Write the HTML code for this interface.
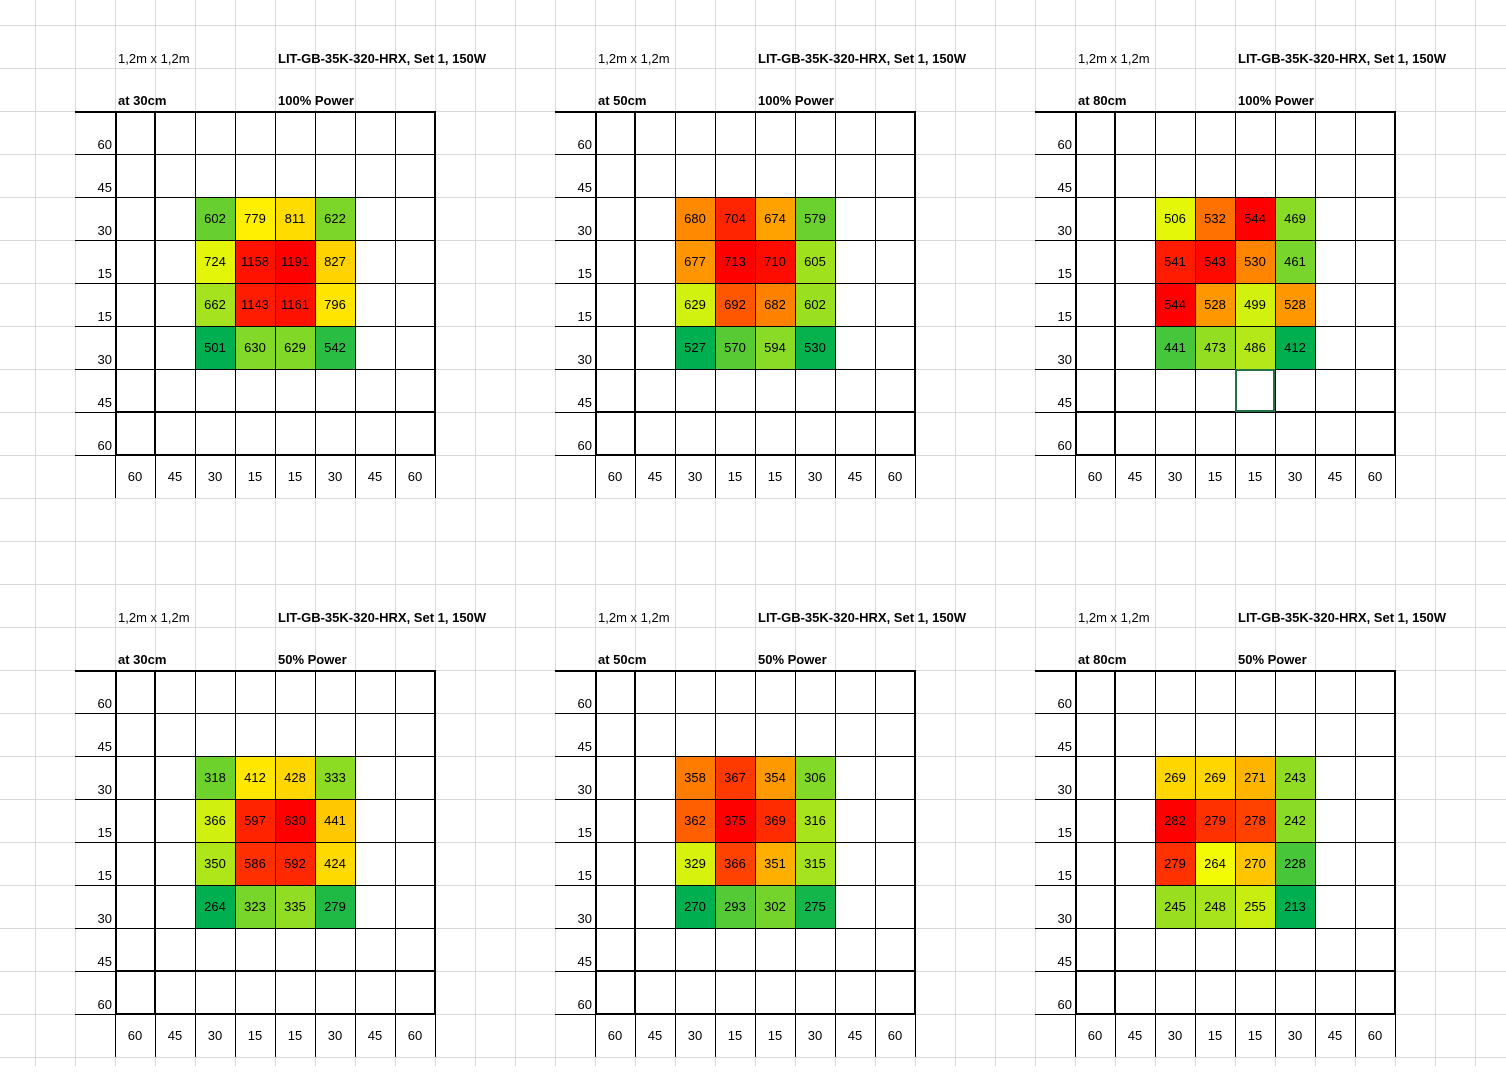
<!DOCTYPE html>
<html><head><meta charset="utf-8">
<style>
html,body{margin:0;padding:0;background:#fff;}
#wrap{position:relative;width:1506px;height:1084px;overflow:hidden;font-family:"Liberation Sans",sans-serif;font-size:13px;color:#000;}
.t{position:absolute;white-space:nowrap;line-height:14px;}
.b{font-weight:bold;}
.ln{position:absolute;background:#000;}
.gl{position:absolute;background:#d9d9d9;}
.cell{position:absolute;display:flex;align-items:center;justify-content:center;}
</style></head><body>
<div id="wrap"></div>
<script>
const panelDistances = ["at 30cm","at 50cm","at 80cm","at 30cm","at 50cm","at 80cm"];
const panelPowers = ["100% Power","100% Power","100% Power","50% Power","50% Power","50% Power"];
const rowLabels = ["60","45","30","15","15","30","45","60"];
const colLabels = ["60","45","30","15","15","30","45","60"];
const p1 = [[602,779,811,622],[724,1158,1191,827],[662,1143,1161,796],[501,630,629,542]];
const p2 = [[680,704,674,579],[677,713,710,605],[629,692,682,602],[527,570,594,530]];
const p3 = [[506,532,544,469],[541,543,530,461],[544,528,499,528],[441,473,486,412]];
const p4 = [[318,412,428,333],[366,597,630,441],[350,586,592,424],[264,323,335,279]];
const p5 = [[358,367,354,306],[362,375,369,316],[329,366,351,315],[270,293,302,275]];
const p6 = [[269,269,271,243],[282,279,278,242],[279,264,270,228],[245,248,255,213]];
const panels = [p1,p2,p3,p4,p5,p6];

const W = document.getElementById('wrap');
const CW = 40, RH = 43, X0 = 35, Y0 = 25;
function add(cls, l, t, w, h, name, txt){
  const d = document.createElement('div');
  d.className = cls;
  d.style.left = l+'px'; d.style.top = t+'px';
  if (w != null) d.style.width = w+'px';
  if (h != null) d.style.height = h+'px';
  if (txt != null) d.textContent = txt;
  
  
  W.appendChild(d);
  return d;
}
// background gridlines
for (let x = X0 - CW; x < 1506; x += CW) add('gl', x, 0, 1, 1066, 'grid-col-line');
for (let y = Y0; y < 1070; y += RH) add('gl', 0, y, 1506, 1, 'grid-row-line');

function lerp(a,b,t){return Math.round(a+(b-a)*t);}
function colorFor(v, min, mid, max){
  const g=[0,176,80], y=[255,255,0], r=[255,0,0];
  let c;
  if (v <= mid){ const t = mid===min?1:(v-min)/(mid-min); c=[0,1,2].map(i=>lerp(g[i],y[i],t)); }
  else { const t = (v-mid)/(max-mid); c=[0,1,2].map(i=>lerp(y[i],r[i],t)); }
  return 'rgb('+c.join(',')+')';
}

panels.forEach((data, pi) => {
  const ox = (pi % 3) * 480, oy = Math.floor(pi / 3) * 559;
  const bx = 115 + ox, by = 111 + oy; // box top-left
  add('t', bx+3, 52+oy, null, null, 'area-label', '1,2m x 1,2m');
  add('t b', bx+163, 52+oy, null, null, 'product-title', 'LIT-GB-35K-320-HRX, Set 1, 150W');
  add('t b', bx+3, 94+oy, null, null, 'distance-label', panelDistances[pi]);
  add('t b', bx+163, 94+oy, null, null, 'power-label', panelPowers[pi]);
  // heat cells
  const flat = data.flat().slice().sort((a,b)=>a-b);
  const min = flat[0], max = flat[flat.length-1];
  const mid = (flat[7]+flat[8])/2;
  data.forEach((row, ri) => row.forEach((v, ci) => {
    const c = add('cell', bx + (ci+2)*CW, by + (ri+2)*RH, CW, RH, 'heat-cell', String(v));
    c.style.background = colorFor(v, min, mid, max);
  }));
  // inner thin lines
  for (let i = 1; i < 8; i++) add('ln', bx + i*CW, by, 1, 8*RH + RH, 'cell-vline');
  for (let j = 1; j < 8; j++) add('ln', bx - CW, by + j*RH, 9*CW, 1, 'cell-hline');
  add('ln', bx - CW, by + 8*RH, 9*CW, 1, 'box-bottom-line');
  add('ln', bx, by + 8*RH, 1, RH, 'label-vline');
  add('ln', bx + 8*CW, by + 8*RH, 1, RH, 'label-vline');
  // thick lines
  add('ln', bx - CW, by, 9*CW+1, 2, 'box-top');
  add('ln', bx, by, 2, 8*RH, 'box-left');
  add('ln', bx + 8*CW - 1, by, 2, 8*RH+1, 'box-right');
  add('ln', bx, by + 8*RH - 1, 8*CW, 2, 'box-bottom');
  add('ln', bx + CW - 1, by, 2, 8*RH, 'thick-vline');
  add('ln', bx, by + 7*RH - 1, 8*CW, 2, 'thick-hline');
  // row labels
  rowLabels.forEach((lb, j) => {
    const d = add('t', bx - CW, by + j*RH + RH - 16, CW - 3, null, 'row-label', lb);
    d.style.textAlign = 'right';
  });
  colLabels.forEach((lb, i) => {
    const d = add('t', bx + i*CW, by + 8*RH + 15, CW, null, 'col-label', lb);
    d.style.textAlign = 'center';
  });
  if (pi === 2) {
    const s = add('ln', bx + 4*CW, by + 6*RH, CW, RH, 'selected-cell');
    s.style.background = 'transparent';
    s.style.border = '2px solid #217346';
    s.style.boxSizing = 'border-box';
  }
});
</script>
</body></html>
